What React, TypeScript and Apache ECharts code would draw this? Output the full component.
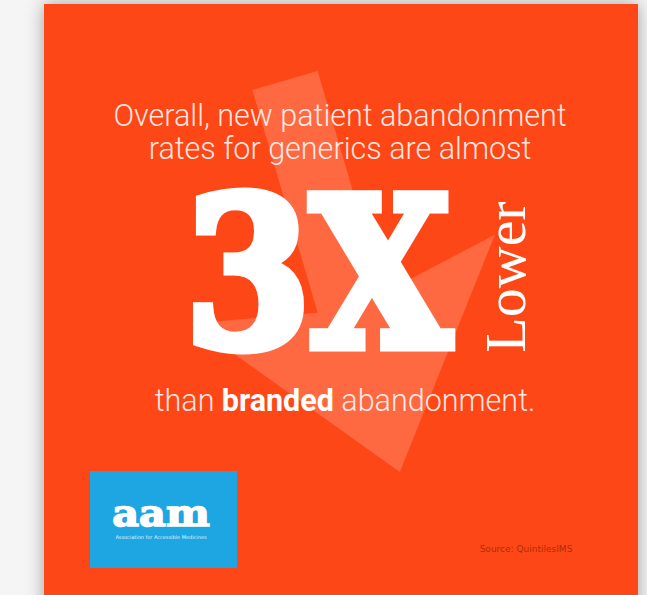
import React, { useEffect, useRef } from "react";
import * as echarts from "echarts";

// ---- content ----
const headlineLines: string[] = ["Overall, new patient abandonment", "rates for generics are almost"];
const bigFigure = "3X";
const bigFigureQualifier = "Lower";
const comparisonParts: string[] = ["than ", "branded", " abandonment."];
const logoWord = "aam";
const logoTagline = "Association for Accessible Medicines";
const sourceNote = "Source: QuintilesIMS";

const ORANGE = "#FE4615";
const BLUE = "#1EA6E2";

function arrowPoints(): number[][] {
  // arrow frame: origin at shaft top centre, axis pointing to tip
  const ox = 285, oy = 80.5;
  const ax = 0.2815, ay = 0.9596;
  const px = 0.9596, py = -0.2815;
  const frame: number[][] = [
    [0, -34], [0, 34], [232, 34], [207, 158], [408, 0], [207, -158], [232, -34],
  ];
  return frame.map(([a, p]) => [ox + a * ax + p * px, oy + a * ay + p * py]);
}

export default function App() {
  const ref = useRef<HTMLDivElement>(null);
  useEffect(() => {
    if (!ref.current) return;
    const chart = echarts.init(ref.current, undefined, { renderer: "svg" });
    const headFont = "Roboto";
    chart.setOption({
      animation: false,
      backgroundColor: "#F5F5F5",
      graphic: [
        {
          type: "rect",
          shape: { x: 44, y: 4, width: 594, height: 620 },
          style: { fill: ORANGE, shadowBlur: 18, shadowColor: "rgba(0,0,0,0.35)" },
        },
        {
          type: "polygon",
          shape: { points: arrowPoints() },
          style: { fill: "rgba(255,255,255,0.19)" },
        },
        ...headlineLines.map((t, i) => ({
          type: "text",
          x: 340,
          y: 115 + i * 33,
          style: {
            text: t,
            fill: "rgba(255,255,255,0.88)",
            font: `300 30.5px ${headFont}`,
            align: "center",
            verticalAlign: "middle",
          },
        })),
        {
          type: "text",
          x: 318,
          y: 274,
          scaleX: 0.875,
          style: {
            text: bigFigure,
            fill: "#FFFFFF",
            font: "bold 206px 'DejaVu Serif'",
            align: "center",
            verticalAlign: "middle",
            stroke: "#FFFFFF",
            lineWidth: 11,
            lineJoin: "miter",
          },
        },
        {
          type: "text",
          x: 505,
          y: 277,
          rotation: Math.PI / 2,
          style: {
            text: bigFigureQualifier,
            fill: "#FFFFFF",
            font: "normal 58px 'Liberation Serif'",
            align: "center",
            verticalAlign: "middle",
          },
        },
        {
          type: "text",
          x: 345,
          y: 400,
          style: {
            text: `{a|${comparisonParts[0]}}{b|${comparisonParts[1]}}{a|${comparisonParts[2]}}`,
            align: "center",
            verticalAlign: "middle",
            rich: {
              a: { fill: "rgba(255,255,255,0.88)", font: `300 30.5px ${headFont}` },
              b: { fill: "#FFFFFF", font: `bold 30.5px ${headFont}` },
            },
          },
        },
        {
          type: "rect",
          shape: { x: 90, y: 471, width: 147, height: 97 },
          style: { fill: BLUE },
        },
        {
          type: "text",
          x: 161,
          y: 513,
          scaleX: 1.15,
          style: {
            text: logoWord,
            fill: "#FFFFFF",
            font: "bold 36px 'DejaVu Serif'",
            align: "center",
            verticalAlign: "middle",
            stroke: "#FFFFFF",
            lineWidth: 1.5,
          },
        },
        {
          type: "text",
          x: 161,
          y: 537,
          style: {
            text: logoTagline,
            fill: "rgba(255,255,255,0.9)",
            font: "normal 5px 'DejaVu Sans'",
            align: "center",
            verticalAlign: "middle",
          },
        },
        {
          type: "text",
          x: 526,
          y: 549,
          style: {
            text: sourceNote,
            fill: "rgba(110,25,0,0.6)",
            font: "normal 9px 'DejaVu Sans'",
            align: "center",
            verticalAlign: "middle",
          },
        },
      ],
    });
    return () => chart.dispose();
  }, []);
  return (
    <div
      ref={ref}
      style={{ position: "fixed", left: 0, top: 0, width: 647, height: 595 }}
    />
  );
}
